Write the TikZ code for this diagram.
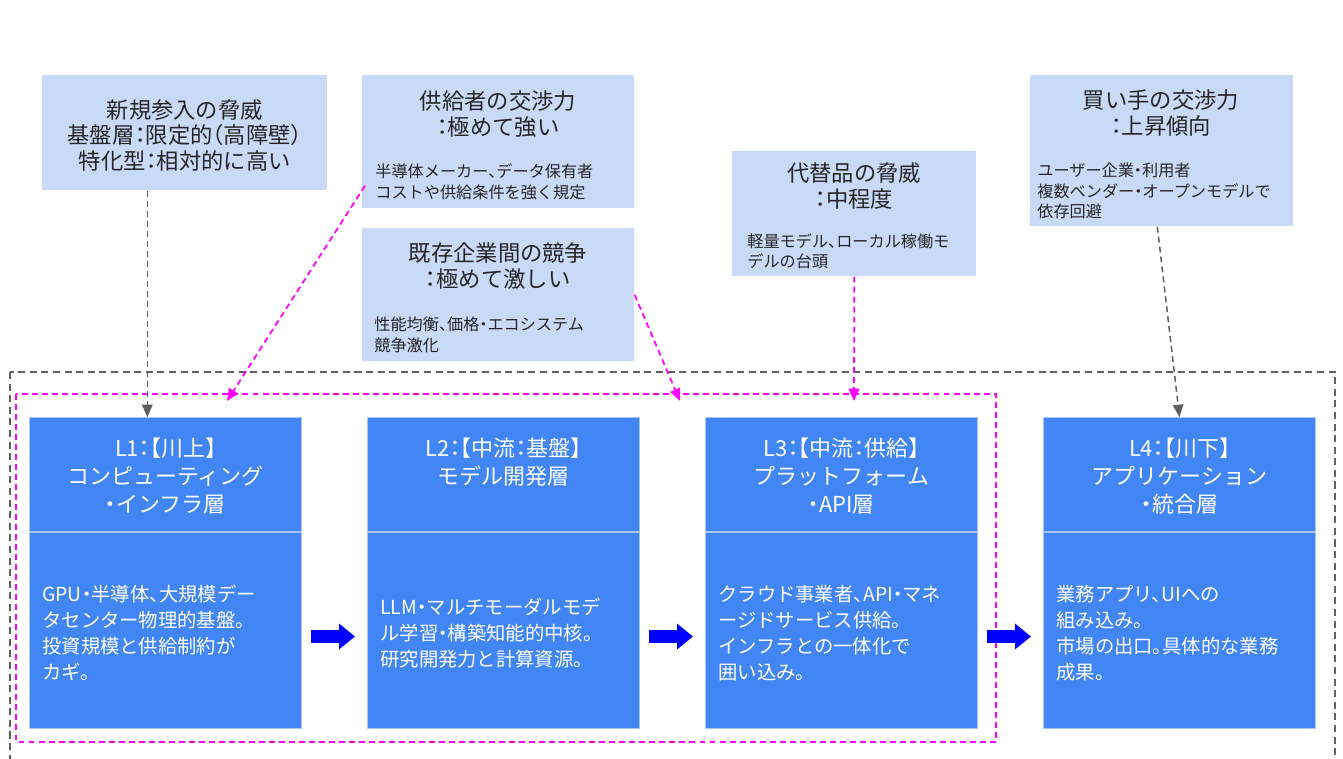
\documentclass[tikz,border=0pt]{standalone}
\usepackage{fontspec}
\setmainfont{Noto Sans CJK JP}[RawFeature=+halt]
\usepackage{tikz}
\usetikzlibrary{arrows.meta, positioning}
\definecolor{forceFill}{RGB}{201,218,248}
\definecolor{layerBlue}{RGB}{66,133,244}
\definecolor{layerEdge}{RGB}{170,198,246}
\definecolor{linkGray}{RGB}{95,95,95}
\definecolor{linkPink}{RGB}{255,0,255}
\definecolor{flowBlue}{RGB}{0,0,255}
\newcommand*{\layer}[4]{%
  \node[layerhead] (#1head) at (#2,417) {};
  \node[layerbody] (#1body) at (#2,532) {};
  \node[headtext, yshift=-0.42cm] (#1title) at (#1head.north) {#3};
  \node[bodytext, xshift=0.26cm, yshift=-0.05cm] (#1text) at (#1body.west) {#4};
}

\begin{document}
\begin{tikzpicture}[x=0.02cm, y=-0.02cm,
    forcebox/.style  = {fill=forceFill, anchor=north west, inner sep=0pt},
    forcetitle/.style = {text=black!85, align=center, inner sep=0pt,
      font=\fontsize{12.7pt}{14.5pt}\selectfont},
    forcenote/.style = {text=black!85, align=left, anchor=west, inner sep=0pt,
      font=\fontsize{9.2pt}{11.6pt}\selectfont},
    layerhead/.style = {fill=layerBlue, draw=layerEdge, line width=0.6pt,
      anchor=north west, minimum width=5.44cm, minimum height=2.28cm, inner sep=0pt},
    layerbody/.style = {layerhead, minimum height=3.92cm},
    headtext/.style  = {text=white, align=center, anchor=north, inner sep=0pt,
      font=\fontsize{12.5pt}{15.9pt}\selectfont},
    bodytext/.style  = {text=white, align=left, anchor=west, inner sep=0pt,
      font=\fontsize{11pt}{14.7pt}\selectfont},
    grayLink/.style  = {draw=linkGray, line width=0.85pt, dash pattern=on 3.4pt off 2.3pt,
      -{Triangle[width=6pt,length=7pt]}},
    pinkLink/.style  = {grayLink, draw=linkPink, line width=1pt},
    flow/.style      = {draw=flowBlue, line width=7pt, -{Triangle[width=14pt,length=9pt]},
      shorten <=0.18cm, shorten >=0.24cm}
  ]
  \useasboundingbox[fill=white] (0,0) rectangle (1343,758);

  % frames
  \draw[linkGray, line width=0.85pt, dash pattern=on 4pt off 2.6pt] (10,372) rectangle (1335,765);
  \draw[linkPink, line width=1.1pt, dash pattern=on 3.4pt off 2.3pt] (16,394) rectangle (996,742);

  % five forces
  \node[forcebox, minimum width=5.70cm, minimum height=2.30cm] (entry) at (42,75) {};
  \node[forcetitle, yshift=-0.05cm] (entryText) at (entry)
    {新規参入の脅威\\基盤層：限定的（高障壁）\\特化型：相対的に高い};

  \node[forcebox, minimum width=5.44cm, minimum height=2.66cm] (supplier) at (362,75) {};
  \node[forcetitle] (supplierTitle) at (498,114) {供給者の交渉力\\：極めて強い};
  \node[forcenote] (supplierNote) at (375,182)
    {半導体メーカー、データ保有者\\コストや供給条件を強く規定};

  \node[forcebox, minimum width=5.44cm, minimum height=2.66cm] (rivalry) at (362,228) {};
  \node[forcetitle] (rivalryTitle) at (498,266) {既存企業間の競争\\：極めて激しい};
  \node[forcenote] (rivalryNote) at (374,335) {性能均衡、価格・エコシステム\\競争激化};

  \node[forcebox, minimum width=4.88cm, minimum height=2.50cm] (substitute) at (732,151) {};
  \node[forcetitle] (substituteTitle) at (854,186) {代替品の脅威\\：中程度};
  \node[forcenote] (substituteNote) at (747,251) {軽量モデル、ローカル稼働モ\\デルの台頭};

  \node[forcebox, minimum width=5.26cm, minimum height=3.02cm] (buyer) at (1030,75) {};
  \node[forcetitle] (buyerTitle) at (1161,113) {買い手の交渉力\\：上昇傾向};
  \node[forcenote] (buyerNote) at (1037,191)
    {ユーザー企業・利用者\\複数ベンダー・オープンモデルで\\依存回避};

  % value chain layers
  \layer{L1}{29}{L1：【川上】\\コンピューティング\\・インフラ層}
    {GPU・半導体、大規模デー\\タセンター物理的基盤。\\投資規模と供給制約が\\カギ。}
  \layer{L2}{367}{L2：【中流：基盤】\\モデル開発層}
    {LLM・マルチモーダルモデ\\ル学習・構築知能的中核。\\研究開発力と計算資源。}
  \layer{L3}{705}{L3：【中流：供給】\\プラットフォーム\\・API層}
    {クラウド事業者、API・マネ\\ージドサービス供給。\\インフラとの一体化で\\囲い込み。}
  \layer{L4}{1043}{L4：【川下】\\アプリケーション\\・統合層}
    {業務アプリ、UIへの\\組み込み。\\市場の出口。具体的な業務\\成果。}

  \foreach \a/\b in {L1/L2, L2/L3, L3/L4}
    \draw[flow] ([yshift=-0.12cm]\a body.east) -- ([yshift=-0.12cm]\b body.west);

  % links
  \coordinate (supIn) at (227,401);
  \coordinate (rivIn) at (680,401);
  \coordinate (subIn) at (854,401);
  \draw[grayLink] ([xshift=-0.75cm]entry.south) -- ([xshift=-0.75cm]entry.south |- L1head.north);
  \draw[grayLink] ([xshift=-0.09cm]buyer.south) -- (L4head.north);
  \draw[pinkLink] ([shift={(3,-23)}]supplier.south west) -- (supIn);
  \draw[pinkLink] (rivalry.east) -- (rivIn);
  \draw[pinkLink] (substitute.south) -- (subIn);
\end{tikzpicture}
\end{document}
